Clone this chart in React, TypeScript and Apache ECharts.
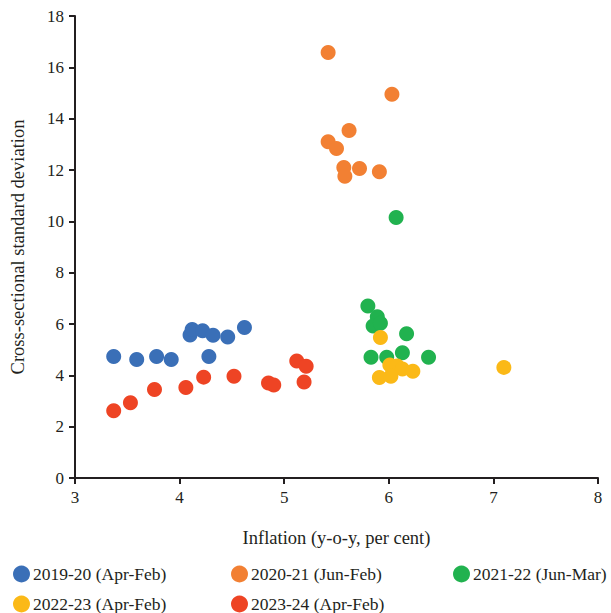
import React, { useEffect, useRef } from "react";
import * as echarts from "echarts";

const seriesNames = [
  "2019-20 (Apr-Feb)",
  "2020-21 (Jun-Feb)",
  "2021-22 (Jun-Mar)",
  "2022-23 (Apr-Feb)",
  "2023-24 (Apr-Feb)",
];

const colors = ["#3A6FB7", "#F28033", "#21B24F", "#FBB917", "#EE4424"];

const fy2019: number[][] = [
  [3.37, 4.73], [3.59, 4.62], [3.78, 4.73], [3.92, 4.62], [4.28, 4.73],
  [4.1, 5.57], [4.12, 5.79], [4.22, 5.74], [4.32, 5.56], [4.46, 5.49], [4.62, 5.86],
];
const fy2020: number[][] = [
  [5.42, 16.58], [6.03, 14.95], [5.62, 13.54], [5.42, 13.1], [5.5, 12.84],
  [5.57, 12.1], [5.58, 11.76], [5.72, 12.06], [5.91, 11.93],
];
const fy2021: number[][] = [
  [6.07, 10.15], [5.8, 6.7], [5.89, 6.28], [5.85, 5.92], [5.92, 6.03],
  [6.17, 5.62], [5.83, 4.7], [5.98, 4.7], [6.13, 4.88], [6.38, 4.7],
];
const fy2022: number[][] = [
  [5.92, 5.47], [6.01, 4.4], [6.08, 4.36], [6.13, 4.25], [6.23, 4.16],
  [5.91, 3.92], [6.02, 3.96], [7.1, 4.31],
];
const fy2023: number[][] = [
  [3.37, 2.62], [3.53, 2.93], [3.76, 3.45], [4.06, 3.53], [4.23, 3.93],
  [4.52, 3.96], [4.85, 3.7], [4.9, 3.62], [5.12, 4.56], [5.21, 4.35], [5.19, 3.74],
];

const allData = [fy2019, fy2020, fy2021, fy2022, fy2023];

// legend slot per series: [left, top]
const legendSlots: number[][] = [
  [13, 565], [231, 565], [453, 565], [13, 595], [231, 595],
];

const FONT = "'Liberation Serif', 'DejaVu Serif', serif";
const INK = "#231f20";

export default function App() {
  const ref = useRef<HTMLDivElement>(null);
  useEffect(() => {
    if (!ref.current) return;
    const chart = echarts.init(ref.current, null, { renderer: "svg" });
    const legends = seriesNames.map((n, i) => ({
      show: true,
      left: legendSlots[i][0],
      top: legendSlots[i][1],
      padding: 0,
      itemWidth: 17,
      itemHeight: 17,
      itemGap: 0,
      icon: "circle",
      selectedMode: false,
      textStyle: { fontFamily: FONT, fontSize: 17.5, color: INK, padding: [0, 0, 0, -2] },
      data: [n],
    }));
    chart.setOption({
      animation: false,
      backgroundColor: "#fff",
      grid: { left: 75, right: 13, top: 16, bottom: 135, containLabel: false },
      legend: legends,
      xAxis: {
        type: "value",
        min: 3,
        max: 8,
        interval: 1,
        name: "Inflation (y-o-y, per cent)",
        nameLocation: "middle",
        nameGap: 50,
        nameTextStyle: { fontFamily: FONT, fontSize: 18.5, color: INK },
        axisLine: { show: true, lineStyle: { color: INK, width: 2 } },
        axisTick: { show: true, length: 6, lineStyle: { color: INK, width: 2 } },
        axisLabel: { fontFamily: FONT, fontSize: 17, color: INK, margin: 11 },
        splitLine: { show: false },
      },
      yAxis: {
        type: "value",
        min: 0,
        max: 18,
        interval: 2,
        name: "Cross-sectional standard deviation",
        nameLocation: "middle",
        nameGap: 48,
        nameTextStyle: { fontFamily: FONT, fontSize: 18.5, color: INK },
        axisLine: { show: true, lineStyle: { color: INK, width: 2 } },
        axisTick: { show: true, length: 6, lineStyle: { color: INK, width: 2 } },
        axisLabel: { fontFamily: FONT, fontSize: 17, color: INK, margin: 11 },
        splitLine: { show: false },
      },
      series: allData.map((d, i) => ({
        name: seriesNames[i],
        type: "scatter",
        data: d,
        symbol: "circle",
        symbolSize: 15,
        itemStyle: { color: colors[i], opacity: 1 },
      })),
    });
    return () => chart.dispose();
  }, []);
  return <div ref={ref} style={{ width: 611, height: 613, position: "absolute", left: 0, top: 0 }} />;
}
